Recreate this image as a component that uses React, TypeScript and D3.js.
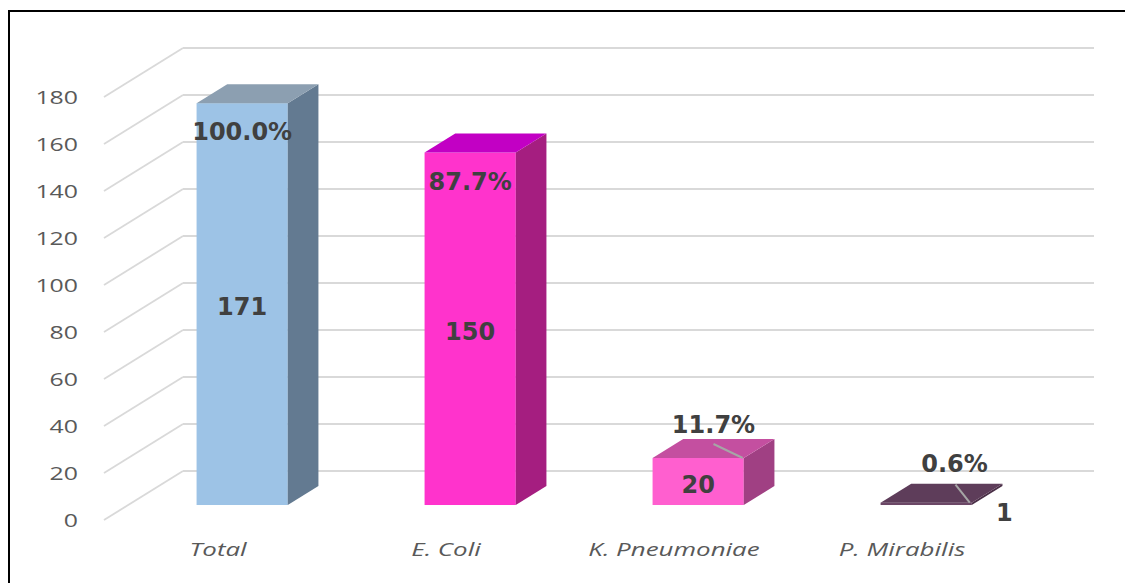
import React from 'react';
import * as d3 from 'd3';

// chart values
const categories = ['Total', 'E. Coli', 'K. Pneumoniae', 'P. Mirabilis'];
const counts = [171, 150, 20, 1];
const yTicks = [0, 20, 40, 60, 80, 100, 120, 140, 160, 180];

const frontColors = ['#9DC3E6', '#FF33CC', '#FF5FCF', '#6B4766'];
const topColors = ['#8C9FB1', '#C200C4', '#C44FA0', '#5E3D5A'];
const sideColors = ['#637A91', '#A51E80', '#A04083', '#4A2F47'];

const W = 1125;
const H = 583;
// oblique projection of the depth axis
const depth = {dx: 79, dy: -49};
const barFront = 0.306;
const barBack = 0.694;

const x = d3.scaleBand<string>()
  .domain(categories)
  .range([104, 104 + 912])
  .paddingInner(0.6)
  .paddingOuter(0.3);

const y = d3.scaleLinear().domain([0, 180]).range([520, 97]);

const pct = d3.format('.1%');
const total = counts[0];

const pts = (arr: number[][]) => arr.map(p => p.join(',')).join(' ');

const labelFont = "'DejaVu Sans', Verdana, sans-serif";
const axisFont = "'Open Sans', sans-serif";

export default function App() {
  const fx = depth.dx * barFront, fy = depth.dy * barFront;
  const bx = depth.dx * (barBack - barFront), by = depth.dy * (barBack - barFront);

  return (
    <svg width={W} height={H} style={{position: 'absolute', left: 0, top: 0, background: '#fff'}}>
      <rect x={9} y={11} width={W + 50} height={H + 50} fill="#fff" stroke="#000" strokeWidth={2} />

      {/* walls grid */}
      <g stroke="#D9D9D9" strokeWidth={1.8} fill="none">
        {yTicks.map(t => (
          <g key={t}>
            <line x1={x.range()[0]} y1={y(t)} x2={x.range()[0] + depth.dx} y2={y(t) + depth.dy} />
            <line x1={x.range()[0] + depth.dx} y1={y(t) + depth.dy} x2={x.range()[1] + depth.dx - 1} y2={y(t) + depth.dy} />
          </g>
        ))}
      </g>

      {/* y tick labels */}
      <g fill="#595959" fontFamily={axisFont} fontSize={18}>
        {yTicks.map(t => (
          <text key={t} textAnchor="end" transform={`translate(78, ${y(t) + 6.5}) scale(1.38,1)`}>{t}</text>
        ))}
      </g>

      {/* bars */}
      {categories.map((c, i) => {
        const x0 = (x(c) as number) + fx;
        const x1 = x0 + x.bandwidth();
        const yb = y(0) + fy;
        const yt = y(counts[i]) + fy;
        return (
          <g key={c}>
            <rect x={x0} y={yt} width={x1 - x0} height={yb - yt} fill={frontColors[i]} />
            <polygon points={pts([[x1, yt], [x1 + bx, yt + by], [x1 + bx, yb + by], [x1, yb]])} fill={sideColors[i]} />
            <polygon points={pts([[x0, yt], [x0 + bx, yt + by], [x1 + bx, yt + by], [x1, yt]])} fill={topColors[i]} />
          </g>
        );
      })}

      {/* data labels */}
      <g fill="#404040" fontFamily={labelFont} fontSize={24} fontWeight="bold" textAnchor="middle">
        {categories.map((c, i) => {
          const x0 = (x(c) as number) + fx;
          const x1 = x0 + x.bandwidth();
          const cx = x0 + x.bandwidth() / 2;
          const yb = y(0) + fy;
          const yt = y(counts[i]) + fy;
          const tall = yb - yt > 100;
          if (tall) {
            return (
              <g key={c}>
                <text x={cx} y={yt + 37}>{pct(counts[i] / total)}</text>
                <text x={cx} y={(yt + yb) / 2 + 11}>{counts[i]}</text>
              </g>
            );
          }
          if (yb - yt > 20) {
            const lx = cx + bx / 2;
            return (
              <g key={c}>
                <text x={lx} y={yt - 25}>{pct(counts[i] / total)}</text>
                <line x1={lx} y1={yt - 14} x2={x1 - 1} y2={yt} stroke="#A6A6A6" strokeWidth={2} />
                <text x={cx} y={(yt + yb) / 2 + 11}>{counts[i]}</text>
              </g>
            );
          }
          const lx = cx + bx / 2 + 13;
          return (
            <g key={c}>
              <text x={lx} y={yt - 31}>{pct(counts[i] / total)}</text>
              <line x1={lx + 1} y1={yt + by + 1} x2={x1 - 2} y2={yt} stroke="#A6A6A6" strokeWidth={2} />
              <text x={x1 + bx + 2} y={yb + 16}>{counts[i]}</text>
            </g>
          );
        })}
      </g>

      {/* category labels */}
      <g fill="#595959" fontFamily={axisFont} fontSize={18.5} fontStyle="italic">
        {categories.map(c => (
          <text key={c} textAnchor="middle" transform={`translate(${(x(c) as number) + x.bandwidth() / 2}, 556) scale(1.4,1)`}>{c}</text>
        ))}
      </g>
    </svg>
  );
}
